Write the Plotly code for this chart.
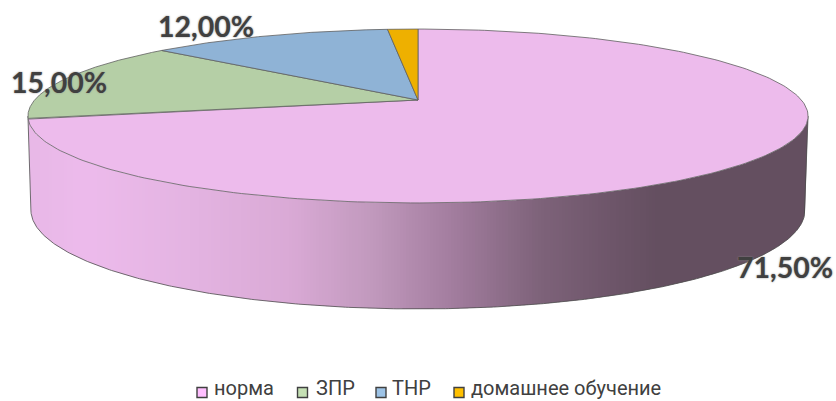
import numpy as np
import plotly.graph_objects as go

categories = ["норма", "ЗПР", "ТНР", "домашнее обучение"]
values = [71.5, 15.0, 12.0, 1.5]
face_colors = ["#EDBBEC", "#B5CFA6", "#8FB3D6", "#EEB000"]
legend_colors = ["#FFBFFF", "#C5E0B4", "#9DC3E6", "#FFC000"]
label_xy = [(785, 271), (59, 86), (206, 30)]
legend_key_x = [202, 302.5, 381, 459]
legend_text_x = [214, 316, 392, 471]
LEGEND_Y = 392.5
LEGEND_TEXT_Y = 389.5

CX, CY, RX, RY, K = 418.0, 100.0, 383.4, 84.0, 0.184
BCX, BCY, BRX, BRY = 418.0, 191.8, 380.5, 95.6
grad_x = [30, 85, 190, 290, 370, 450, 540, 610, 660, 810]
grad_c = [(232,184,231), (237,187,236), (228,180,226), (218,170,214), (194,154,190),
          (164,126,160), (126,99,122), (110,86,106), (100,79,96), (100,79,96)]


def top(t):
    w = 1 / (1 + K * np.cos(t))
    return CX + RX * np.sin(t) * w, CY - RY * np.cos(t) * w


def bottom(t):
    w = 1 / (1 + K * np.cos(t))
    return BCX + BRX * np.sin(t) * w, BCY - BRY * np.cos(t) * w


def shade(x):
    return "rgb(%d,%d,%d)" % tuple(np.interp(x, grad_x, [c[i] for c in grad_c]) for i in range(3))


fig = go.Figure()
t_r = np.arccos(-K)
t_l = 2 * np.pi - t_r
s = np.linspace(t_r, t_l, 400)
xt, yt = top(s)
xb, yb = bottom(s)
xt_o, yt_o = xt[::-1], yt[::-1]
# lower boundary of the wall, closed up to the top rim at both ends
xb_o = np.r_[xt_o[0], xb[::-1], xt_o[-1]]
yb_o = np.r_[yt_o[0], yb[::-1], yt_o[-1]]

# side wall, as vertical strips following the gradient
x_edges = np.arange(np.ceil(xt_o[0]), np.floor(xt_o[-1]) + 1, 3)
for a, b in zip(x_edges[:-1], x_edges[1:]):
    xs = np.array([a, (a + b) / 2, b])
    y1 = np.interp(xs, xt_o, yt_o)
    y2 = np.interp(xs, xb_o, yb_o)
    fig.add_trace(go.Scatter(x=np.r_[xs, xs[::-1]], y=np.r_[y1, y2[::-1]], mode="none", fill="toself",
                             fillcolor=shade((a + b) / 2), showlegend=False, hoverinfo="skip"))

# side wall outline
fig.add_trace(go.Scatter(x=np.r_[xt[0], xb, xt[-1]], y=np.r_[yt[0], yb, yt[-1]], mode="lines",
                         line=dict(color="#4d4d4d", width=0.8), showlegend=False, hoverinfo="skip"))

# top faces
cum = np.cumsum([0] + values)
for i, cat in enumerate(categories):
    s = np.linspace(cum[i], cum[i + 1], 240) / 100 * 2 * np.pi
    x, y = top(s)
    fig.add_trace(go.Scatter(x=np.r_[CX, x, CX], y=np.r_[CY, y, CY], mode="lines", fill="toself",
                             fillcolor=face_colors[i], line=dict(color="#5f5f5f", width=0.8),
                             name=cat, showlegend=False, hoverinfo="skip"))

# legend keys and names
for i, cat in enumerate(categories):
    fig.add_trace(go.Scatter(x=[legend_key_x[i]], y=[LEGEND_Y], mode="markers", name=cat,
                             showlegend=False,
                             marker=dict(symbol="square", size=10, color=legend_colors[i],
                                         line=dict(color="#404040", width=1.4))))
fig.add_trace(go.Scatter(x=legend_text_x, y=[LEGEND_TEXT_Y] * 4, mode="text", text=categories,
                         textposition="middle right", showlegend=False, hoverinfo="skip",
                         textfont=dict(family="Roboto", size=20, color="#404040")))

# data labels
fig.add_trace(go.Scatter(x=[p[0] for p in label_xy], y=[p[1] for p in label_xy], mode="text",
                         text=[f"{v:.2f}".replace(".", ",") + "%" for v in values[:3]],
                         textposition="middle center", showlegend=False, hoverinfo="skip",
                         textfont=dict(family="Lato", size=28.5, color="#404040", weight=700,
                                       shadow="0 0 2px #8c8c8c")))

fig.update_layout(
    width=836, height=401, margin=dict(l=0, r=0, t=0, b=0),
    paper_bgcolor="white", plot_bgcolor="white",
    xaxis=dict(range=[0, 836], visible=False, fixedrange=True),
    yaxis=dict(range=[401, 0], visible=False, fixedrange=True),
)
fig.write_html("out.html", config={"displayModeBar": False},
               post_script="document.body.style.margin='0';document.documentElement.style.overflow='hidden';")
